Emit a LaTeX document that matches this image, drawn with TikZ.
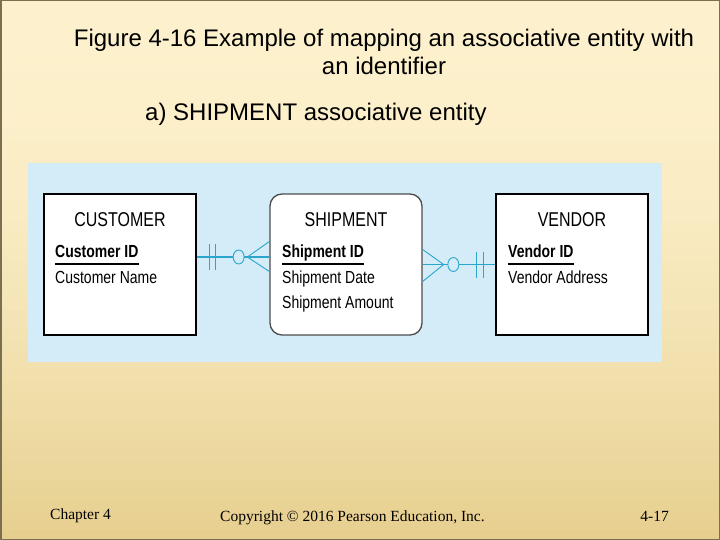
\documentclass[tikz,border=0pt]{standalone}
\usepackage{fontspec}
\setmainfont{Liberation Sans}
\newfontfamily\footft{Liberation Serif}
\newfontfamily\narrowft[FakeStretch=0.8]{Liberation Sans}
\usetikzlibrary{positioning}
\definecolor{slidetop}{HTML}{FDF1CD}
\definecolor{slidebot}{HTML}{E6CF8E}
\definecolor{slideedge}{HTML}{7A7050}
\definecolor{panelblue}{HTML}{D3ECF8}
\definecolor{relcyan}{HTML}{2AA6CC}
\tikzset{entbox/.style = {draw,line width=1.3pt,fill=white,minimum width=152pt,minimum height=141pt,inner sep=0pt},
	assocbox/.style = {entbox,draw=black!70,rounded corners=12pt},
	enthead/.style = {font=\narrowft\fontsize{20}{22}\selectfont,inner sep=0pt,anchor=base},
	attr/.style = {font=\narrowft\fontsize{17.5}{19}\selectfont,inner sep=0pt,anchor=base west},
	keyattr/.style = {attr,font=\narrowft\bfseries\fontsize{17.5}{19}\selectfont},
	rel/.style = {draw=relcyan,line width=#1},
	relmark/.style = {draw=relcyan,line width=0.9pt,fill=panelblue},
	slidetext/.style = {font=\fontsize{24}{28}\selectfont,inner sep=0pt},
	foottext/.style = {font=\footft\fontsize{15.5}{17}\selectfont,inner sep=0pt}}
\newcommand{\keyline}[1]{%
	\draw[line width=1.2pt] ([yshift=-6pt]#1.base west) -- ([yshift=-6pt]#1.base east);
}

\begin{document}
\begin{tikzpicture}[x=1pt,y=-1pt]
\useasboundingbox (0,0) rectangle (720,540);
\foreach \i in {0,...,53}{
	\pgfmathtruncatemacro{\pct}{100*(\i/53)^1.8}
	\fill[slidebot!\pct!slidetop] (0,\i*10) rectangle (720,\i*10+10.5);
}
\draw[slideedge,line width=1.5pt] (0.75,0.75) rectangle (719.25,539.25);
\node[slidetext,align=center] (title) at (384,52) {Figure 4-16 Example of mapping an associative entity with\\an identifier};
\node[slidetext,anchor=base west] (sub) at (145,121) {a) SHIPMENT associative entity};
\fill[panelblue] (28,163) rectangle (662,362);
% entities
\node[entbox] (cust) at (120,264.5) {};
\node[assocbox] (ship) at (346,264.5) {};
\node[entbox] (vend) at (572,264.5) {};
\node[enthead] (custh) at (120,226) {CUSTOMER};
\node[enthead] (shiph) at (346,226) {SHIPMENT};
\node[enthead] (vendh) at (572,226) {VENDOR};
\node[keyattr] (cid) at (55,258) {Customer ID};
\node[attr] (cname) at (55,283) {Customer Name};
\node[keyattr] (sid) at (282,258) {Shipment ID};
\node[attr] (sdate) at (282,283) {Shipment Date};
\node[attr] (samt) at (282,308) {Shipment Amount};
\node[keyattr] (vid) at (508,258) {Vendor ID};
\node[attr] (vaddr) at (508,283) {Vendor Address};
\keyline{cid}
\keyline{sid}
\keyline{vid}
% relationships
\draw[rel=1.8pt] ([yshift=7.5pt]cust.east) -- ([yshift=7.5pt]ship.west);
\draw[relmark] ([xshift=13pt,yshift=7.5pt]cust.east) ++(0,-13) -- ++(0,26);
\draw[relmark] ([xshift=19pt,yshift=7.5pt]cust.east) ++(0,-13) -- ++(0,26);
\draw[relmark] ([xshift=-22pt,yshift=7.5pt]ship.west) -- ([yshift=23pt]ship.west);
\draw[relmark] ([xshift=-22pt,yshift=7.5pt]ship.west) -- ([yshift=-7pt]ship.west);
\draw[relmark] ([xshift=42pt,yshift=7.5pt]cust.east) ellipse (5.5 and 7);
\draw[rel=0.9pt] (ship.east) -- (vend.west);
\draw[relmark] ([xshift=21pt]ship.east) -- ([yshift=15pt]ship.east);
\draw[relmark] ([xshift=21pt]ship.east) -- ([yshift=-17pt]ship.east);
\draw[relmark] ([xshift=-42pt]vend.west) ellipse (5.5 and 7);
\draw[relmark] ([xshift=-19pt]vend.west) ++(0,-13) -- ++(0,26);
\draw[relmark] ([xshift=-12pt]vend.west) ++(0,-13) -- ++(0,26);
% footer
\node[foottext,anchor=base west] (chap) at (50,519) {Chapter 4};
\node[foottext,anchor=base west] (copy) at (220,521) {Copyright © 2016 Pearson Education, Inc.};
\node[foottext,anchor=base east] (page) at (669,521) {4-17};
\end{tikzpicture}
\end{document}
